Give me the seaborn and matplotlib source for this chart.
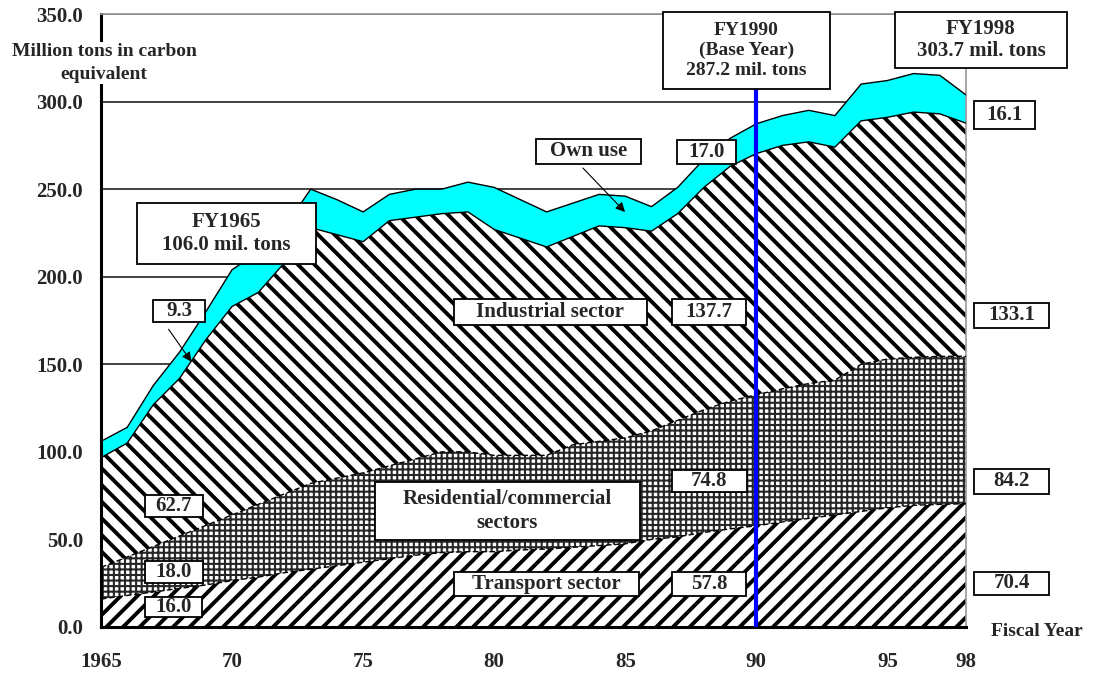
import numpy as np
import pandas as pd
import seaborn as sns
import matplotlib.pyplot as plt
from matplotlib.patches import Rectangle

# fiscal years and sector emissions (million t-C)
years = list(range(1965, 1999))
transport = [16.0, 18, 20, 22, 24, 26.5, 28.5, 31, 33, 35, 37, 39, 41, 42.5, 43, 43, 44,
             44.5, 45.5, 46.5, 47.5, 50, 51.5, 54, 56, 57.8, 60, 62, 64, 66, 68, 69.5, 70, 70.4]
residential = [18.0, 22, 26, 30, 34, 37.5, 41.5, 45, 49, 50, 51, 53, 55, 57.5, 57, 55, 54,
               53.5, 58.5, 59.5, 60.5, 62, 66.5, 70, 73, 74.8, 76, 77, 77, 84, 85, 84.5, 84.5, 84.2]
industrial = [62.7, 65, 81, 90, 106, 119, 121, 132, 146, 139, 132, 140, 138, 136, 137, 129, 124,
              119, 119, 123, 120, 114, 118, 127, 134, 137.7, 139, 138, 133, 139, 138, 140, 138.5, 133.1]
own_use = [9.3, 9, 11, 15, 16, 21, 23, 20, 22, 20, 17, 15, 16, 14, 17, 24, 22,
           20, 19, 18, 18, 14, 15, 16, 16, 17.0, 17, 18, 18, 21, 21, 22, 22, 16.1]

base_year = 1990
xtick_pos = [1965, 1970, 1975, 1980, 1985, 1990, 1995, 1998]
xtick_lab = ["1965", "70", "75", "80", "85", "90", "95", "98"]
ytick_pos = [0, 50, 100, 150, 200, 250, 300, 350]

df = pd.DataFrame({"year": years, "transport": transport, "residential": residential,
                   "industrial": industrial, "own_use": own_use})
df["t_top"] = df["transport"]
df["r_top"] = df["t_top"] + df["residential"]
df["i_top"] = df["r_top"] + df["industrial"]
df["total"] = df["i_top"] + df["own_use"]

sns.set_theme(style="white")
plt.rcParams["font.family"] = ["Liberation Serif", "DejaVu Serif"]
plt.rcParams["font.weight"] = "bold"

W, H = 1093, 673
fig = plt.figure(figsize=(W / 100, H / 100), dpi=100)
ax = fig.add_axes([101 / W, 1 - 627 / H, 865 / W, 613 / H])


def hatched(lo, hi, hatch, ec, hlw, fc="white"):
    with plt.rc_context({"hatch.linewidth": hlw}):
        coll = ax.fill_between(df["year"], lo, hi, facecolor=fc, edgecolor=ec,
                               hatch=hatch, linewidth=0, zorder=2)
    if hasattr(coll, "set_hatch_linewidth"):
        coll.set_hatch_linewidth(hlw)
    return coll


hatched(0, df["t_top"], "//", "black", 2.8)
hatched(df["t_top"], df["r_top"], "+++", "#262626", 1.5)
hatched(df["r_top"], df["i_top"], "\\\\", "black", 2.8)
ax.fill_between(df["year"], df["i_top"], df["total"], facecolor="#00FFFF",
                edgecolor="none", zorder=2)

# boundary lines between the stacked layers
sns.lineplot(data=df, x="year", y="t_top", color="black", lw=1.0, ax=ax, zorder=3,
             linestyle=(0, (4, 2)))
sns.lineplot(data=df, x="year", y="r_top", color="black", lw=1.0, ax=ax, zorder=3,
             linestyle=(0, (4, 2)))
sns.lineplot(data=df, x="year", y="i_top", color="black", lw=1.0, ax=ax, zorder=3)
sns.lineplot(data=df, x="year", y="total", color="black", lw=1.0, ax=ax, zorder=3)

ax.axvline(base_year, color="#0000FF", lw=3, zorder=4)

ax.set_xlim(1965, 1998)
ax.set_ylim(0, 350)
ax.set_xticks(xtick_pos)
ax.set_xticklabels(xtick_lab)
ax.set_yticks(ytick_pos)
ax.set_yticklabels([f"{v:.1f}" for v in ytick_pos])
ax.set_xlabel("")
ax.set_ylabel("")
ax.tick_params(axis="x", direction="out", length=7, width=2, color="black",
               labelsize=15, pad=11)
ax.tick_params(axis="y", length=0, labelsize=15, pad=13)
ax.xaxis.get_major_ticks()[-1].tick1line.set_visible(False)
for lab in ax.get_xticklabels() + ax.get_yticklabels():
    lab.set_fontweight("bold")

ax.set_axisbelow(True)
ax.yaxis.grid(True, color="#222222", lw=1.2)
ax.xaxis.grid(False)
for side in ["left", "bottom"]:
    ax.spines[side].set_color("black")
    ax.spines[side].set_linewidth(2.2)
for side in ["top", "right"]:
    ax.spines[side].set_color("#999999")
    ax.spines[side].set_linewidth(1.2)


def box(x0, y0, x1, y1, text, size=15, style="normal"):
    fig.add_artist(Rectangle((x0 / W, 1 - y1 / H), (x1 - x0) / W, (y1 - y0) / H,
                             transform=fig.transFigure, facecolor="white",
                             edgecolor="black", lw=1.3, zorder=5))
    fig.text((x0 + x1) / 2 / W, 1 - (y0 + y1) / 2 / H, text, ha="center", va="center",
             ma="center", fontsize=size, fontweight="bold", style=style, zorder=6,
             linespacing=1.2)


def arrow(x0, y0, x1, y1):
    fig.add_artist(plt.Annotation("", xy=(x1, H - y1), xytext=(x0, H - y0),
                                  xycoords="figure pixels", textcoords="figure pixels",
                                  arrowprops=dict(arrowstyle="-|>", color="black", lw=0.8,
                                                  mutation_scale=14), zorder=6))


box(137, 203, 316, 264, "FY1965\n106.0 mil. tons", size=15)
box(663, 12, 830, 89, "FY1990\n(Base Year)\n287.2 mil. tons", size=14)
box(895, 12, 1067, 68, "FY1998\n303.7 mil. tons", size=15)

box(153, 300, 205, 322, "9.3")
arrow(167, 327, 193, 364)
box(536, 139, 641, 164, "Own use")
arrow(581, 166, 627, 214)
box(677, 140, 736, 164, "17.0")
box(454, 299, 647, 325, "Industrial sector")
box(672, 299, 746, 325, "137.7")
box(375, 482, 640, 540, "Residential/commercial\nsectors")
box(672, 470, 747, 492, "74.8")
box(454, 572, 639, 596, "Transport sector")
box(672, 572, 746, 596, "57.8")
box(145, 495, 203, 517, "62.7")
box(145, 561, 203, 583, "18.0")
box(145, 597, 202, 617, "16.0")
box(974, 101, 1035, 129, "16.1")
box(974, 303, 1049, 328, "133.1")
box(974, 469, 1049, 494, "84.2")
box(974, 572, 1049, 595, "70.4")

fig.text(104 / W, 1 - 63 / H, "Million tons in carbon\nequivalent", ha="center",
         va="center", ma="center", fontsize=14, fontweight="bold", zorder=6,
         linespacing=1.45, bbox=dict(facecolor="white", edgecolor="none", pad=1))
fig.text(1037 / W, 1 - 631 / H, "Fiscal Year", ha="center", va="center",
         fontsize=14, fontweight="bold")

fig.savefig("out.png", dpi=100, facecolor="white")
